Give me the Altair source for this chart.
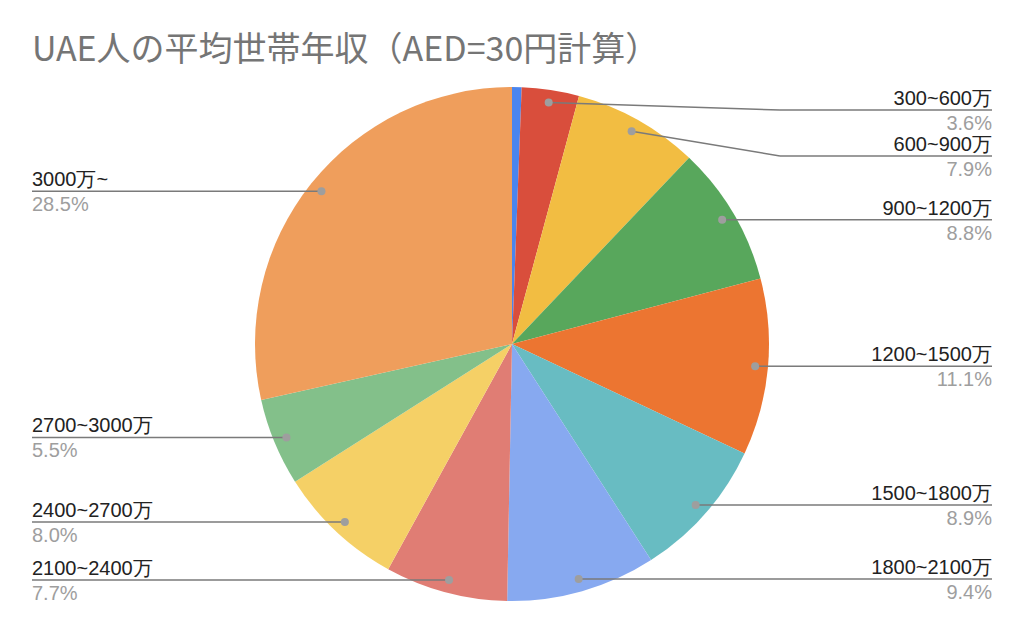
import math
import pandas as pd
import altair as alt

# ---------------------------------------------------------------------------
# Data
# ---------------------------------------------------------------------------
labels = [
    "~300万", "300~600万", "600~900万", "900~1200万", "1200~1500万",
    "1500~1800万", "1800~2100万", "2100~2400万", "2400~2700万",
    "2700~3000万", "3000万~",
]
shares = [0.6, 3.6, 7.9, 8.8, 11.1, 8.9, 9.4, 7.7, 8.0, 5.5, 28.5]
colors = [
    "#4a85ee", "#d94e3c", "#f2bd42", "#58a75c", "#ec7531", "#68bcc2",
    "#87a9f0", "#e07d74", "#f5d066", "#83c08a", "#ef9e5c",
]

# ---------------------------------------------------------------------------
# Geometry (view coordinates, y downwards)
# ---------------------------------------------------------------------------
W, H = 960, 512
CX, CY, R = W / 2, H / 2, 257
DOT_R = 0.95 * R
GAP, TOP = 46, 22

df = pd.DataFrame({"label": labels, "share": shares, "color": colors})
df["order"] = range(len(df))
total = df["share"].sum()
df["start"] = df["share"].cumsum() - df["share"]
df["mid"] = (df["start"] + df["share"] / 2) / total * 2 * math.pi
df["dx"] = CX + DOT_R * df["mid"].apply(math.sin)
df["dy"] = CY - DOT_R * df["mid"].apply(math.cos)
df["pct"] = df["share"].map(lambda v: f"{v:.1f}%")

# small slices get no label; the rest are pushed apart vertically
lab = df[df["share"] >= 1].copy()
lab["right"] = lab["mid"] < math.pi
lab["ly"] = lab["dy"]
for side in (True, False):
    sub = lab[lab["right"] == side].sort_values("dy")
    prev = TOP - GAP
    for i, row in sub.iterrows():
        y = max(row["dy"], prev + GAP, TOP)
        lab.loc[i, "ly"] = y
        prev = y
lab["bx"] = lab["right"].map(lambda r: CX + R + 11 if r else CX - R - 11)
lab["ex"] = lab["right"].map(lambda r: W if r else 0)
lab["ny"] = lab["ly"] - 5
lab["py"] = lab["ly"] + 20

xs = alt.Scale(domain=[0, W])
ys = alt.Scale(domain=[0, H], reverse=True)

pie = (
    alt.Chart(df)
    .mark_arc(outerRadius=R)
    .encode(
        theta=alt.Theta("share:Q", stack=True),
        order=alt.Order("order:Q"),
        color=alt.Color("label:N",
                        scale=alt.Scale(domain=labels, range=colors),
                        legend=None),
    )
)

base = alt.Chart(lab)

seg1 = base.mark_rule(color="#7a7a7a", strokeWidth=1.5).encode(
    x=alt.X("dx:Q", scale=xs, axis=None),
    y=alt.Y("dy:Q", scale=ys, axis=None),
    x2="bx:Q", y2="ly:Q",
)
seg2 = base.mark_rule(color="#7a7a7a", strokeWidth=1.5).encode(
    x=alt.X("bx:Q", scale=xs, axis=None),
    y=alt.Y("ly:Q", scale=ys, axis=None),
    x2="ex:Q",
)
dots = base.mark_circle(size=64, color="#9e9e9e", opacity=1).encode(
    x=alt.X("dx:Q", scale=xs, axis=None),
    y=alt.Y("dy:Q", scale=ys, axis=None),
)


def label_layer(field, side, color):
    flt = "datum.right" if side == "right" else "!datum.right"
    return base.transform_filter(flt).mark_text(
        align=side, color=color, font="Liberation Sans", fontSize=20,
        baseline="alphabetic",
    ).encode(
        x=alt.X("ex:Q", scale=xs, axis=None),
        y=alt.Y(("ny" if field == "label" else "py") + ":Q", scale=ys, axis=None),
        text=field + ":N",
    )


texts = [
    label_layer("label", "right", "#222222"),
    label_layer("label", "left", "#222222"),
    label_layer("pct", "right", "#9e9e9e"),
    label_layer("pct", "left", "#9e9e9e"),
]

chart = (
    alt.layer(pie, seg1, seg2, dots, *texts)
    .properties(
        width=W, height=H,
        autosize=alt.AutoSizeParams(type="none"),
        padding={"left": 24, "top": 80, "right": 24, "bottom": 25},
        title=alt.TitleParams(
            "UAE人の平均世帯年収（AED=30円計算）",
            anchor="start", frame="group", fontSize=34,
            font="Noto Sans CJK JP", fontWeight="normal",
            color="#757575", offset=19,
        ),
    )
    .configure_view(strokeWidth=0)
)

chart.save("out.html", embed_options={"renderer": "svg", "actions": False})
